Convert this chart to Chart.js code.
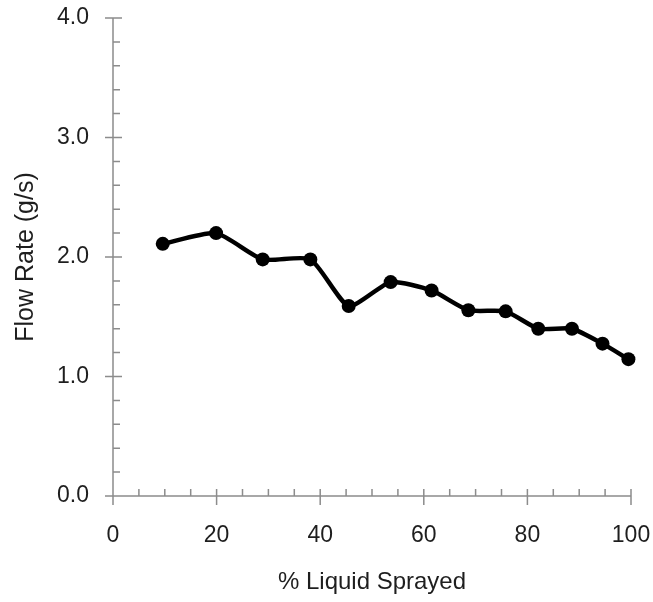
<!DOCTYPE html>
<html>
<head>
<meta charset="utf-8">
<script src="https://cdn.jsdelivr.net/npm/chart.js@4"></script>
<style>
  html, body { margin: 0; padding: 0; background: #fff; }
  #wrap { width: 653px; height: 602px; }
</style>
</head>
<body>
<div id="wrap"><canvas id="chart"></canvas></div>
<script>
// data
const liquidSprayed = [9.6, 19.9, 28.9, 38.1, 45.5, 53.6, 61.5, 68.6, 75.8, 82.1, 88.6, 94.5, 99.5];
const flowRate = [2.11, 2.20, 1.98, 1.98, 1.59, 1.79, 1.72, 1.555, 1.545, 1.40, 1.40, 1.275, 1.145];

const xTicks = [0, 20, 40, 60, 80, 100];
const yTicks = [0, 1, 2, 3, 4];
const xMinorStep = 5;
const yMinorStep = 0.2;

const AXIS_COLOR = '#8c8c8c';
const FONT = '"Liberation Sans", Arial, sans-serif';

// kill the auto padding chart.js adds for edge labels
function noPad(scale) {
  scale.paddingTop = 0;
  scale.paddingBottom = 0;
  scale.paddingLeft = 0;
  scale.paddingRight = 0;
}

// axes + tick marks, drawn like the old Excel chart
const excelAxes = {
  id: 'excelAxes',
  beforeDatasetsDraw(chart) {
    const { ctx } = chart;
    const xs = chart.scales.x, ys = chart.scales.y;
    const x0 = xs.getPixelForValue(0), y0 = ys.getPixelForValue(0);
    ctx.save();
    ctx.strokeStyle = AXIS_COLOR;
    ctx.lineWidth = 1.5;
    ctx.beginPath();
    // y axis
    ctx.moveTo(x0, ys.getPixelForValue(4));
    ctx.lineTo(x0, y0 + 6);
    // x axis
    ctx.moveTo(x0 - 8, y0);
    ctx.lineTo(xs.getPixelForValue(100), y0);
    // y ticks
    for (let v = 0; v <= 4.0001; v += yMinorStep) {
      const py = ys.getPixelForValue(v);
      const major = yTicks.some(t => Math.abs(t - v) < 1e-6);
      if (major) { ctx.moveTo(x0 - 8, py); ctx.lineTo(x0 + 9, py); }
      else { ctx.moveTo(x0, py); ctx.lineTo(x0 + 7, py); }
    }
    // x ticks
    for (let v = 0; v <= 100.001; v += xMinorStep) {
      const px = xs.getPixelForValue(v);
      const major = xTicks.includes(Math.round(v));
      if (major) { ctx.moveTo(px, y0 - 7); ctx.lineTo(px, y0 + 9); }
      else { ctx.moveTo(px, y0); ctx.lineTo(px, y0 - 7); }
    }
    ctx.stroke();
    ctx.restore();
  }
};

new Chart(document.getElementById('chart'), {
  type: 'line',
  data: {
    datasets: [{
      data: liquidSprayed.map((x, i) => ({ x: x, y: flowRate[i] })),
      borderColor: '#000',
      backgroundColor: '#000',
      borderWidth: 4.5,
      tension: 0.2,
      clip: false,
      pointRadius: 7,
      pointHoverRadius: 7,
      pointBackgroundColor: '#000',
      pointBorderWidth: 0
    }]
  },
  options: {
    responsive: true,
    maintainAspectRatio: false,
    animation: false,
    layout: { padding: { top: 18, right: 22, left: 0, bottom: 0 } },
    plugins: { legend: { display: false }, tooltip: { enabled: false } },
    scales: {
      x: {
        type: 'linear',
        min: 0, max: 100,
        afterFit(scale) { scale.height = 106; noPad(scale); },
        afterBuildTicks(scale) { scale.ticks = xTicks.map(v => ({ value: v })); },
        grid: { display: false, drawTicks: false },
        border: { display: false },
        ticks: { padding: 26, color: '#1e1e1e', font: { family: FONT, size: 23 } },
        title: {
          display: true, text: '% Liquid Sprayed', color: '#1e1e1e',
          font: { family: FONT, size: 24 }, padding: { top: 0, bottom: 5 }
        }
      },
      y: {
        min: 0, max: 4,
        afterFit(scale) { scale.width = 113; noPad(scale); },
        afterBuildTicks(scale) { scale.ticks = yTicks.map(v => ({ value: v })); },
        grid: { display: false, drawTicks: false },
        border: { display: false },
        ticks: {
          padding: 24, color: '#1e1e1e', font: { family: FONT, size: 23 },
          callback: v => v.toFixed(1)
        },
        title: {
          display: true, text: 'Flow Rate (g/s)', color: '#1e1e1e',
          font: { family: FONT, size: 25 }, padding: { top: 11, bottom: 0 }
        }
      }
    }
  },
  plugins: [excelAxes]
});
</script>
</body>
</html>
